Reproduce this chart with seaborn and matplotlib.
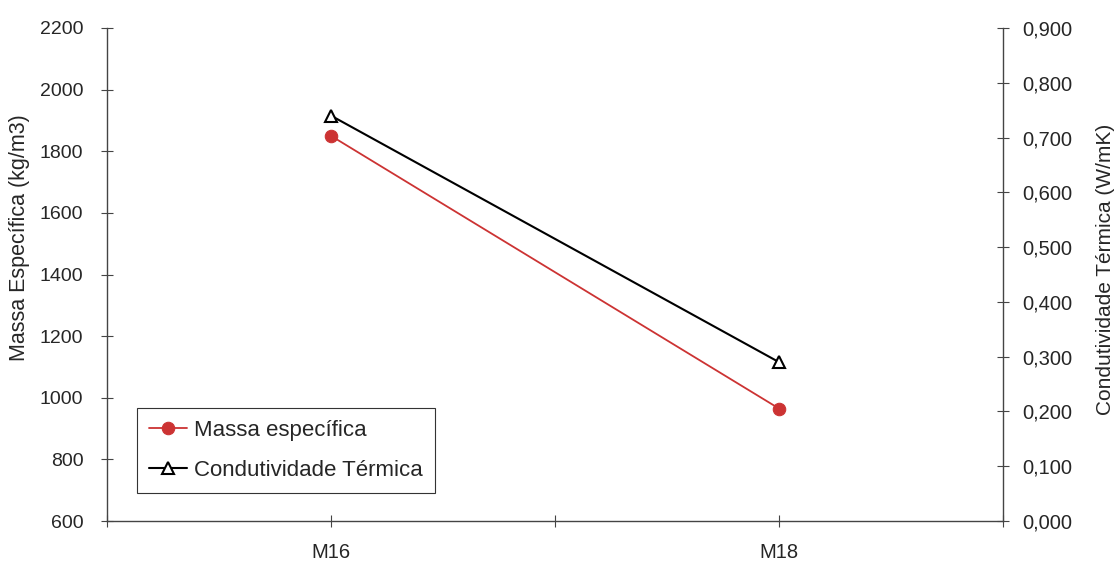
import matplotlib
matplotlib.use("Agg")
import matplotlib.pyplot as plt
import seaborn as sns
import pandas as pd
from matplotlib.ticker import FuncFormatter, FixedLocator

categories = ["M16", "M18"]
massa = [1850, 965]
condutividade = [0.74, 0.29]

sns.set_style("white")
plt.rcParams['font.family'] = ['Liberation Sans', 'DejaVu Sans']

fig = plt.figure(figsize=(11.19, 5.64), dpi=100)
ax = fig.add_axes([107/1119, 43/564, 896/1119, 493/564])
ax2 = ax.twinx()

df = pd.DataFrame({"cat": categories, "massa": massa, "cond": condutividade})

sns.lineplot(data=df, x="cat", y="massa", ax=ax, color="#cc3333", marker="o",
             markersize=9, markeredgecolor="#cc3333", linewidth=1.3,
             label="Massa específica", legend=False)
sns.lineplot(data=df, x="cat", y="cond", ax=ax2, color="black", marker="^",
             markersize=8, markerfacecolor="white", markeredgecolor="black",
             markeredgewidth=1.5, linewidth=1.5, label="Condutividade Térmica",
             legend=False)

ax.set_xlim(-0.5, 1.5)
ax.set_ylim(600, 2200)
ax2.set_ylim(0, 0.9)

ax.set_yticks(range(600, 2201, 200))
ax2.set_yticks([i / 10 for i in range(0, 10)])
ax2.yaxis.set_major_formatter(FuncFormatter(lambda v, p: f"{v:.3f}".replace(".", ",")))

ax.xaxis.set_major_locator(FixedLocator([0, 1]))
ax.set_xticklabels(categories)
ax.xaxis.set_minor_locator(FixedLocator([-0.5, 0.5, 1.5]))

for a in (ax, ax2):
    a.spines["top"].set_visible(False)
    for s in a.spines.values():
        s.set_color("#444444")
        s.set_linewidth(1.0)
ax.spines["right"].set_visible(False)
ax2.spines["left"].set_visible(False)
ax2.spines["bottom"].set_visible(False)

ax.tick_params(axis="y", which="major", direction="inout", length=8, width=0.8,
               color="#444444", labelsize=14, left=True, pad=13)
ax2.tick_params(axis="y", which="major", direction="inout", length=8, width=0.8,
                color="#444444", labelsize=14.5, right=True, pad=10)
ax.tick_params(axis="x", which="both", direction="inout", length=8, width=0.8,
               color="#444444", bottom=True)
ax.tick_params(axis="x", which="major", labelsize=14.5, pad=12)

ax.set_xlabel("")
ax.set_ylabel("Massa Específica (kg/m3)", fontsize=15.5)
ax2.set_ylabel("Condutividade Térmica (W/mK)", fontsize=15, rotation=90)
ax.yaxis.set_label_coords(-0.086, 0.575)
ax2.yaxis.set_label_coords(1.104, 0.51)

h1, l1 = ax.get_legend_handles_labels()
h2, l2 = ax2.get_legend_handles_labels()
leg = ax2.legend(h1 + h2, l1 + l2, loc="lower left", bbox_to_anchor=(0.0335, 0.057),
                 borderaxespad=0, frameon=True, fancybox=False, fontsize=16,
                 handlelength=1.7, edgecolor="#333333", framealpha=1,
                 borderpad=0.55, labelspacing=0.85, handletextpad=0.3)
leg.get_frame().set_linewidth(0.8)

fig.savefig("out.png", dpi=100)
